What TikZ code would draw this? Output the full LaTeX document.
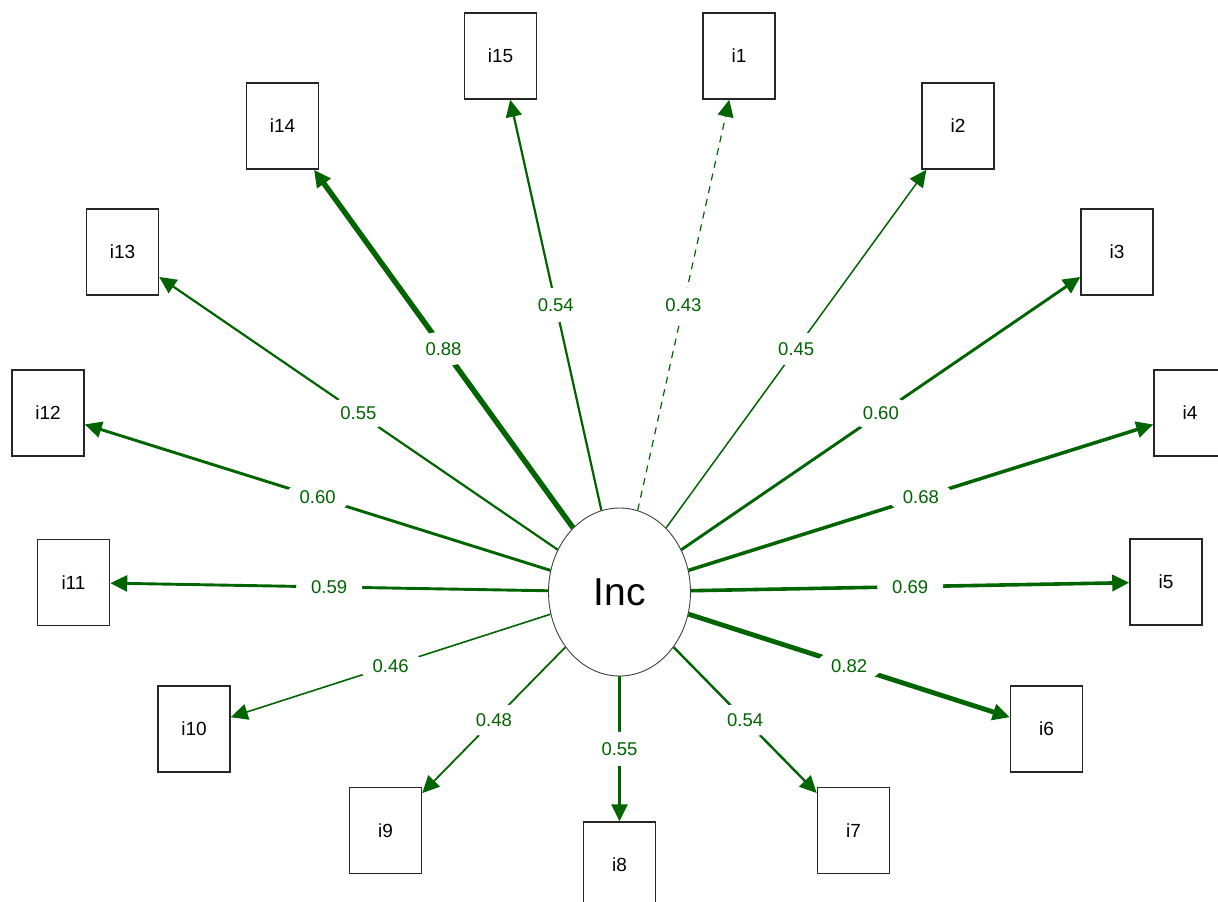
\documentclass[tikz,border=0pt]{standalone}
\usepackage{fontspec}
\setmainfont{Liberation Sans}
\usetikzlibrary{arrows.meta,shapes.geometric}
\definecolor{verdescuro}{RGB}{0,100,0}
\tikzset{
  manifesta/.style={draw=black!85, line width=1.5pt, minimum width=72pt, minimum height=86pt, inner sep=0pt, font=\fontsize{19}{21}\selectfont},
  latente/.style={ellipse, draw=black!75, line width=0.9pt, minimum width=142pt, minimum height=168pt, font=\fontsize{39}{42}\selectfont},
  carico/.style={draw=verdescuro, -{Triangle[length=17pt,width=16pt]}},
  peso/.style={ellipse, fill=white, text=verdescuro, inner sep=0pt, minimum width=66pt, minimum height=34pt, font=\fontsize{18.5}{20}\selectfont}
}
\begin{document}
\begin{tikzpicture}[x=1pt,y=-1pt]
  \useasboundingbox (0,0) rectangle (1218,902);
  % Nodi
  \node[latente] (inc) at (619.5,592) {Inc};
  \node[manifesta] (i1) at (739,56) {i1};
  \node[manifesta] (i2) at (958,126) {i2};
  \node[manifesta] (i3) at (1117,252) {i3};
  \node[manifesta] (i4) at (1190,413) {i4};
  \node[manifesta] (i5) at (1166,582) {i5};
  \node[manifesta] (i6) at (1046.5,729) {i6};
  \node[manifesta] (i7) at (853.5,830.5) {i7};
  \node[manifesta] (i8) at (619.5,865) {i8};
  \node[manifesta] (i9) at (385.5,830.5) {i9};
  \node[manifesta] (i10) at (194,729) {i10};
  \node[manifesta] (i11) at (73.5,582.5) {i11};
  \node[manifesta] (i12) at (48,413) {i12};
  \node[manifesta] (i13) at (122.5,252) {i13};
  \node[manifesta] (i14) at (282.5,126) {i14};
  \node[manifesta] (i15) at (500.5,56) {i15};

  % Frecce (saturazioni)
  \draw[carico, line width=1.2pt, dash pattern=on 7pt off 6pt] (inc) -- node[midway,peso] {0.43} (i1);
  \draw[carico, line width=1.5pt] (inc) -- node[midway,peso] {0.45} (i2);
  \draw[carico, line width=2.9pt] (inc) -- node[midway,peso] {0.60} (i3);
  \draw[carico, line width=3.5pt] (inc) -- node[midway,peso] {0.68} (i4);
  \draw[carico, line width=3.6pt] (inc) -- node[midway,peso] {0.69} (i5);
  \draw[carico, line width=4.8pt] (inc) -- node[midway,peso] {0.82} (i6);
  \draw[carico, line width=2.4pt] (inc) -- node[midway,peso] {0.54} (i7);
  \draw[carico, line width=2.9pt] (inc) -- node[midway,peso] {0.55} (i8);
  \draw[carico, line width=1.8pt] (inc) -- node[midway,peso] {0.48} (i9);
  \draw[carico, line width=1.6pt] (inc) -- node[midway,peso] {0.46} (i10);
  \draw[carico, line width=2.9pt] (inc) -- node[midway,peso] {0.59} (i11);
  \draw[carico, line width=2.9pt] (inc) -- node[midway,peso] {0.60} (i12);
  \draw[carico, line width=2.2pt] (inc) -- node[midway,peso] {0.55} (i13);
  \draw[carico, line width=5.4pt] (inc) -- node[midway,peso] {0.88} (i14);
  \draw[carico, line width=2.2pt] (inc) -- node[midway,peso] {0.54} (i15);
\end{tikzpicture}
\end{document}
